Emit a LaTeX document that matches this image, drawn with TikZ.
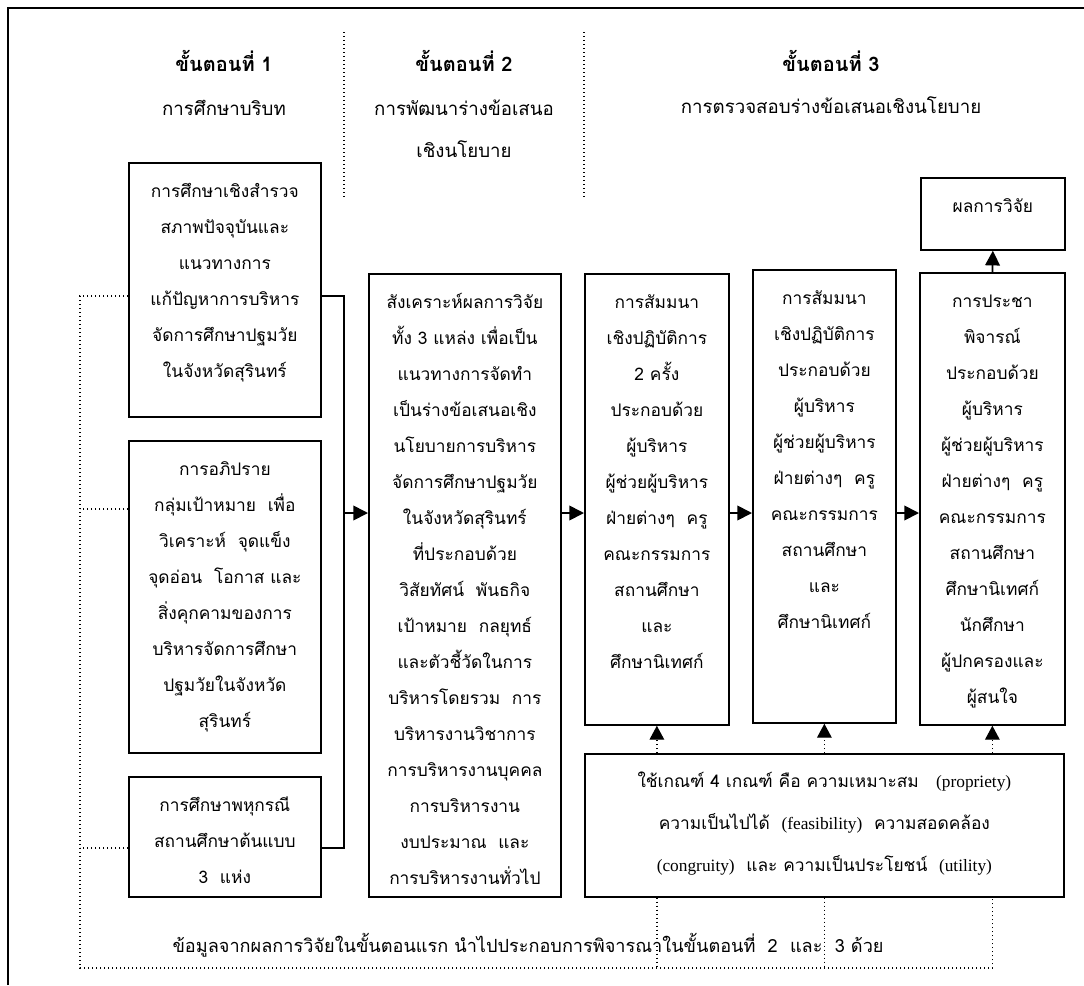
\documentclass[tikz,border=0pt]{standalone}
\usepackage{fontspec}
\setmainfont[Script=Thai]{Loma}
\newfontfamily\latinfont{Liberation Serif}
\usetikzlibrary{arrows.meta,calc,positioning}
\newlength\pxu
\setlength\pxu{0.75pt}
\newcommand{\lat}[1]{{\latinfont #1}}
\newcommand{\boxlines}[3]{\begin{minipage}[c][#1\pxu][t]{#2\pxu}\centering\rule{0pt}{26pt}#3\end{minipage}}
\tikzset{
    stage-box/.style = {draw, line width=1.3pt, rectangle, inner sep=0pt, anchor=north west, font=\fontsize{13}{27}\selectfont},
    stage-title/.style = {anchor=base, font=\fontsize{15}{18}\selectfont\bfseries},
    stage-sub/.style = {anchor=base, font=\fontsize{14}{18}\selectfont},
    flow-line/.style = {line width=1.3pt},
    flow-arrow/.style = {line width=1.3pt, -{Triangle[length=11pt,width=11pt]}},
    feed-line/.style = {dotted, line width=1pt},
    feed-arrow/.style = {dotted, line width=1pt, -{Triangle[length=10.5pt,width=11pt]}},
}

\begin{document}
\begin{tikzpicture}[x=0.75pt, y=-0.75pt]
\useasboundingbox (0,0) rectangle (1084,985);
\draw[line width=1.8pt] (8,985) -- (8,8) -- (1084,8);

% stage headings
\node[stage-title] (stage1) at (224,71) {ขั้นตอนที่ 1};
\node[stage-sub] (stage1-sub) at (224,115) {การศึกษาบริบท};
\node[stage-title] (stage2) at (464,71) {ขั้นตอนที่ 2};
\node[stage-sub] (stage2-sub) at (464,115) {การพัฒนาร่างข้อเสนอ};
\node[stage-sub] (stage2-sub2) at (464,157) {เชิงนโยบาย};
\node[stage-title] (stage3) at (831,71) {ขั้นตอนที่ 3};
\node[stage-sub] (stage3-sub) at (831,113) {การตรวจสอบร่างข้อเสนอเชิงนโยบาย};
\draw[feed-line] (344,32) -- (344,197);
\draw[feed-line] (584,32) -- (584,197);

% stage 1
\node[stage-box] (survey) at (128,162) {\boxlines{254}{192}{การศึกษาเชิงสำรวจ\\สภาพปัจจุบันและ\\แนวทางการ\\แก้ปัญหาการบริหาร\\จัดการศึกษาปฐมวัย\\ในจังหวัดสุรินทร์}};
\node[stage-box] (focus) at (128,440) {\boxlines{312}{192}{การอภิปราย\\กลุ่มเป้าหมาย~ เพื่อ\\วิเคราะห์~ จุดแข็ง\\จุดอ่อน~ โอกาส และ\\สิ่งคุกคามของการ\\บริหารจัดการศึกษา\\ปฐมวัยในจังหวัด\\สุรินทร์}};
\node[stage-box] (cases) at (128,776) {\boxlines{120}{192}{การศึกษาพหุกรณี\\สถานศึกษาต้นแบบ\\3~ แห่ง}};

% stage 2
\node[stage-box] (synth) at (368,273) {\boxlines{623}{192}{สังเคราะห์ผลการวิจัย\\ทั้ง 3 แหล่ง เพื่อเป็น\\แนวทางการจัดทำ\\เป็นร่างข้อเสนอเชิง\\นโยบายการบริหาร\\จัดการศึกษาปฐมวัย\\ในจังหวัดสุรินทร์\\ที่ประกอบด้วย\\วิสัยทัศน์~ พันธกิจ\\เป้าหมาย~ กลยุทธ์\\และตัวชี้วัดในการ\\บริหารโดยรวม~ การ\\บริหารงานวิชาการ\\การบริหารงานบุคคล\\การบริหารงาน\\งบประมาณ~ และ\\การบริหารงานทั่วไป}};

% stage 3
\node[stage-box] (seminar1) at (584,273) {\boxlines{451}{144}{การสัมมนา\\เชิงปฏิบัติการ\\2 ครั้ง\\ประกอบด้วย\\ผู้บริหาร\\ผู้ช่วยผู้บริหาร\\ฝ่ายต่างๆ~ ครู\\คณะกรรมการ\\สถานศึกษา\\และ\\ศึกษานิเทศก์}};
\node[stage-box] (seminar2) at (752,269) {\boxlines{453}{143}{การสัมมนา\\เชิงปฏิบัติการ\\ประกอบด้วย\\ผู้บริหาร\\ผู้ช่วยผู้บริหาร\\ฝ่ายต่างๆ~ ครู\\คณะกรรมการ\\สถานศึกษา\\และ\\ศึกษานิเทศก์}};
\node[stage-box] (hearing) at (919,272) {\boxlines{452}{145}{การประชา\\พิจารณ์\\ประกอบด้วย\\ผู้บริหาร\\ผู้ช่วยผู้บริหาร\\ฝ่ายต่างๆ~ ครู\\คณะกรรมการ\\สถานศึกษา\\ศึกษานิเทศก์\\นักศึกษา\\ผู้ปกครองและ\\ผู้สนใจ}};
\node[stage-box] (result) at (920,177) {\boxlines{72}{144}{ผลการวิจัย}};
\node[stage-box] (criteria) at (584,753) {\begin{minipage}[c][143\pxu][t]{479\pxu}\fontsize{13}{31.5}\selectfont\centering
    \rule{0pt}{25pt}ใช้เกณฑ์ 4 เกณฑ์ คือ ความเหมาะสม\quad \lat{(propriety)}\\
    ความเป็นไปได้~ \lat{(feasibility)}~ ความสอดคล้อง\\
    \lat{(congruity)}~ และ ความเป็นประโยชน์~ \lat{(utility)}
\end{minipage}};

% main flow
\coordinate (join) at (344,513);
\draw[flow-line] ($(survey.north east)+(0,134)$) -| (join) |- ($(cases.north east)+(0,72)$);
\draw[flow-arrow] (join) -- (join -| synth.west);
\draw[flow-arrow] (synth.east |- join) -- (seminar1.west |- join);
\draw[flow-arrow] (seminar1.east |- join) -- (seminar2.west |- join);
\draw[flow-arrow] (seminar2.east |- join) -- (hearing.west |- join);
\draw[flow-arrow] (hearing.north) -- (result.south);

% criteria feeding stage 3
\draw[feed-arrow] (seminar1.south |- criteria.north) -- (seminar1.south);
\draw[feed-arrow] (seminar2.south |- criteria.north) -- (seminar2.south);
\draw[feed-arrow] (hearing.south |- criteria.north) -- (hearing.south);

% stage 1 data carried forward
\coordinate (back) at (80,968);
\coordinate (survey-in) at ($(survey.north west)+(0,134)$);
\coordinate (focus-in) at ($(focus.north west)+(0,69)$);
\coordinate (cases-in) at ($(cases.north west)+(0,72)$);
\draw[feed-line] (survey-in) -| (back) -| (hearing.south |- criteria.south);
\draw[feed-line] (focus-in) -- (focus-in -| back);
\draw[feed-line] (cases-in) -- (cases-in -| back);
\draw[feed-line] (seminar1.south |- criteria.south) -- (seminar1.south |- back);
\draw[feed-line] (seminar2.south |- criteria.south) -- (seminar2.south |- back);
\node[anchor=base, font=\fontsize{13.6}{16}\selectfont] (note) at (528,952) {ข้อมูลจากผลการวิจัยในขั้นตอนแรก นำไปประกอบการพิจารณาในขั้นตอนที่~ 2~ และ~ 3 ด้วย};
\end{tikzpicture}
\end{document}
